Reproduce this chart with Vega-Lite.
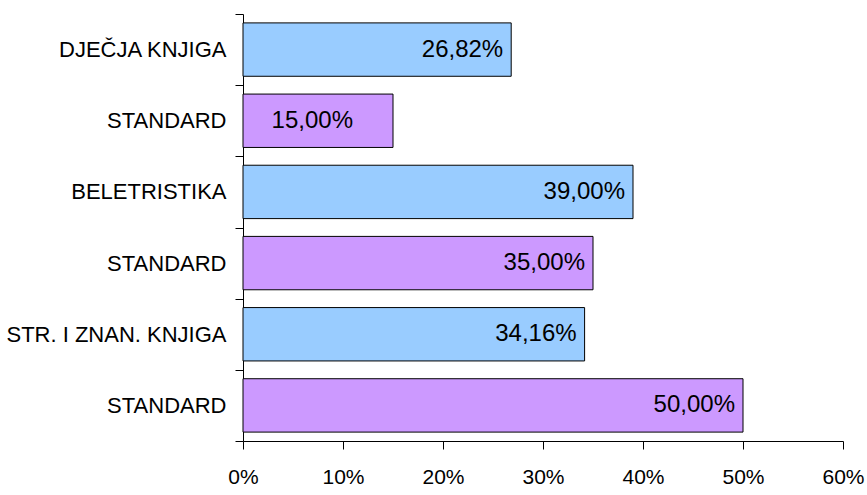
{
  "$schema": "https://vega.github.io/schema/vega-lite/v6.json",
  "width": 600,
  "height": 427,
  "autosize": {"type": "none"},
  "padding": {"left": 243, "top": 14, "right": 24, "bottom": 54},
  "background": "white",
  "config": {
    "locale": {"number": {"decimal": ",", "thousands": ".", "grouping": [3], "currency": ["", " €"]}},
    "view": {"stroke": null},
    "font": "Liberation Sans"
  },
  "data": {
    "values": [
      {"id": 1, "label": "DJEČJA KNJIGA", "type": "kategorija", "value": 0.2682},
      {"id": 2, "label": "STANDARD", "type": "standard", "value": 0.15},
      {"id": 3, "label": "BELETRISTIKA", "type": "kategorija", "value": 0.39},
      {"id": 4, "label": "STANDARD", "type": "standard", "value": 0.35},
      {"id": 5, "label": "STR. I ZNAN. KNJIGA", "type": "kategorija", "value": 0.3416},
      {"id": 6, "label": "STANDARD", "type": "standard", "value": 0.50}
    ]
  },
  "encoding": {
    "y": {
      "field": "id",
      "type": "ordinal",
      "sort": "ascending",
      "scale": {"paddingInner": 0, "paddingOuter": 0},
      "axis": {
        "title": null,
        "labelExpr": "datum.value == 1 ? 'DJEČJA KNJIGA' : datum.value == 3 ? 'BELETRISTIKA' : datum.value == 5 ? 'STR. I ZNAN. KNJIGA' : (datum.value == 2 || datum.value == 4 || datum.value == 6) ? 'STANDARD' : ''",
        "tickBand": "extent",
        "tickSize": 8,
        "tickColor": "black",
        "domainColor": "black",
        "labelColor": "black",
        "labelFontSize": 22,
        "labelLimit": 400,
        "labelPadding": 9,
        "grid": false
      }
    },
    "x": {
      "field": "value",
      "type": "quantitative",
      "scale": {"domain": [0, 0.6], "nice": false},
      "axis": {
        "title": null,
        "format": "%",
        "values": [0, 0.1, 0.2, 0.3, 0.4, 0.5, 0.6],
        "tickSize": 8,
        "tickColor": "black",
        "domainColor": "black",
        "labelColor": "black",
        "labelFontSize": 21,
        "labelPadding": 17,
        "labelFlush": false,
        "grid": false
      }
    }
  },
  "layer": [
    {
      "mark": {"type": "bar", "height": {"band": 0.75}, "stroke": "black", "strokeWidth": 1},
      "encoding": {
        "color": {
          "field": "type",
          "type": "nominal",
          "scale": {"domain": ["kategorija", "standard"], "range": ["#99CCFF", "#CC99FF"]},
          "legend": null
        }
      }
    },
    {
      "transform": [{"filter": "datum.value >= 0.2"}],
      "mark": {"type": "text", "align": "right", "baseline": "middle", "dx": -8, "fontSize": 24, "color": "black"},
      "encoding": {"text": {"field": "value", "type": "quantitative", "format": ".2%"}}
    },
    {
      "transform": [{"filter": "datum.value < 0.2"}],
      "mark": {"type": "text", "align": "right", "baseline": "middle", "dx": -40, "fontSize": 24, "color": "black"},
      "encoding": {"text": {"field": "value", "type": "quantitative", "format": ".2%"}}
    }
  ]
}
